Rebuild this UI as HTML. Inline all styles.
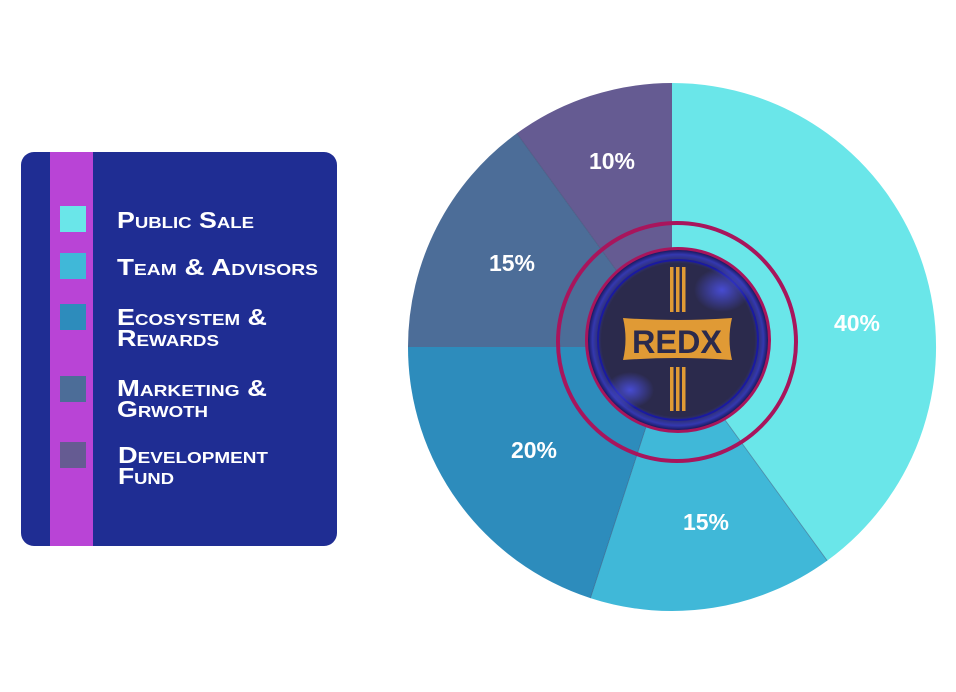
<!DOCTYPE html>
<html><head><meta charset="utf-8"><style>
html,body{margin:0;padding:0;background:#fff;width:956px;height:692px;overflow:hidden}
svg{display:block}
.lg{font-family:"Liberation Sans",sans-serif;font-weight:bold;font-size:23px;font-variant:small-caps;fill:#fff}
.pc{font-family:"Liberation Sans",sans-serif;font-weight:bold;font-size:23px;fill:#fff;text-anchor:middle}
</style></head><body>
<svg width="956" height="692" viewBox="0 0 956 692" xmlns="http://www.w3.org/2000/svg">
<defs>
<radialGradient id="coin" cx="0.5" cy="0.5" r="0.5">
<stop offset="0.85" stop-color="#2b2a4c"/><stop offset="0.95" stop-color="#3438b0"/><stop offset="1" stop-color="#1a1a60"/>
</radialGradient>
<radialGradient id="glow1" cx="0.5" cy="0.5" r="0.5"><stop offset="0" stop-color="#4a4fe0" stop-opacity="0.9"/><stop offset="1" stop-color="#4a4fe0" stop-opacity="0"/></radialGradient>
</defs>
<rect x="21" y="152" width="316" height="394" rx="13" fill="#1f2d93"/>
<rect x="50" y="152" width="43" height="394" fill="#b944d6"/>
<rect x="60" y="206" width="26" height="26" fill="#6ae6e9"/>
<rect x="60" y="253" width="26" height="26" fill="#40b8d8"/>
<rect x="60" y="304" width="26" height="26" fill="#2d8cbc"/>
<rect x="60" y="376" width="26" height="26" fill="#4c6d98"/>
<rect x="60" y="442" width="26" height="26" fill="#655b92"/>
<text class="lg" x="117" y="228" textLength="137" lengthAdjust="spacingAndGlyphs">Public Sale</text>
<text class="lg" x="117" y="275" textLength="201" lengthAdjust="spacingAndGlyphs">Team &amp; Advisors</text>
<text class="lg" x="117" y="325" textLength="150" lengthAdjust="spacingAndGlyphs">Ecosystem &amp;</text>
<text class="lg" x="117" y="346" textLength="102" lengthAdjust="spacingAndGlyphs">Rewards</text>
<text class="lg" x="117" y="396" textLength="150" lengthAdjust="spacingAndGlyphs">Marketing &amp;</text>
<text class="lg" x="117" y="417" textLength="91" lengthAdjust="spacingAndGlyphs">Grwoth</text>
<text class="lg" x="118" y="463" textLength="150" lengthAdjust="spacingAndGlyphs">Development</text>
<text class="lg" x="118" y="484" textLength="56" lengthAdjust="spacingAndGlyphs">Fund</text>
<path d="M672,347 L672,83 A264,264 0 0 1 827.2,560.6 Z" fill="#6ae6e9"/>
<path d="M672,347 L827.2,560.6 A264,264 0 0 1 590.4,598.1 Z" fill="#40b8d8"/>
<path d="M672,347 L590.4,598.1 A264,264 0 0 1 408,347 Z" fill="#2d8cbc"/>
<path d="M672,347 L408,347 A264,264 0 0 1 516.8,133.4 Z" fill="#4c6d98"/>
<path d="M672,347 L516.8,133.4 A264,264 0 0 1 672,83 Z" fill="#655b92"/>
<g stroke="#3a4a70" stroke-width="0.8" stroke-opacity="0.5">
<line x1="672" y1="347" x2="827.2" y2="560.6"/><line x1="672" y1="347" x2="590.4" y2="598.1"/><line x1="672" y1="347" x2="516.8" y2="133.4"/>
</g>
<text class="pc" x="612" y="169">10%</text>
<text class="pc" x="512" y="271">15%</text>
<text class="pc" x="857" y="331">40%</text>
<text class="pc" x="534" y="458">20%</text>
<text class="pc" x="706" y="530">15%</text>
<circle cx="677" cy="342" r="119" fill="none" stroke="#a8155c" stroke-width="4"/>
<circle cx="678" cy="340" r="93" fill="#a8155c"/>
<circle cx="678" cy="340" r="90" fill="url(#coin)"/>
<circle cx="678" cy="340" r="80" fill="none" stroke="#1a1aa0" stroke-width="2"/>
<ellipse cx="722" cy="290" rx="28" ry="22" fill="url(#glow1)"/>
<ellipse cx="630" cy="390" rx="24" ry="18" fill="url(#glow1)"/>
<g fill="#e09a35">
<rect x="670" y="267" width="3.5" height="45"/><rect x="676" y="267" width="3.5" height="45"/><rect x="682" y="267" width="3.5" height="45"/>
<rect x="670" y="367" width="3.5" height="44"/><rect x="676" y="367" width="3.5" height="44"/><rect x="682" y="367" width="3.5" height="44"/>
<path d="M623,318 Q677,322 732,318 Q727,339 732,360 Q677,356 623,360 Q628,339 623,318 Z"/>
</g>
<text x="677" y="353" text-anchor="middle" font-family="Liberation Sans,sans-serif" font-weight="bold" font-size="32" fill="#2b2a4c" textLength="90" lengthAdjust="spacingAndGlyphs">REDX</text>
</svg>
</body></html>
